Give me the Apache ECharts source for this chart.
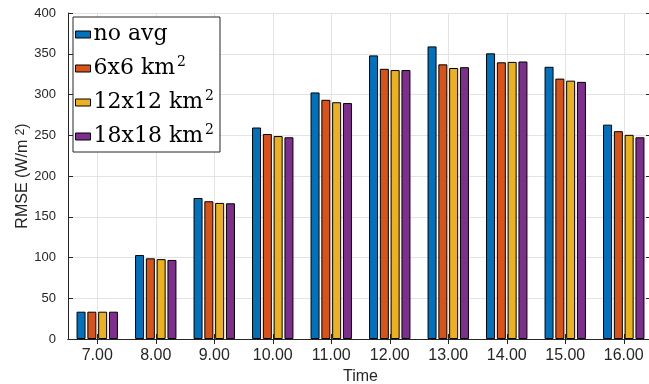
<!DOCTYPE html>
<html>
<head>
<meta charset="utf-8">
<script src="https://cdn.jsdelivr.net/npm/echarts@6/dist/echarts.min.js"></script>
<style>
  html, body { margin: 0; padding: 0; background: #fff; }
  #chart { width: 649px; height: 384px; }
</style>
</head>
<body>
<div id="chart"></div>
<script>
// RMSE per hour, one array per averaging window
const categories = ["7.00", "8.00", "9.00", "10.00", "11.00", "12.00", "13.00", "14.00", "15.00", "16.00"];
const noAvg = [33.5, 103, 173, 259.5, 302.5, 348, 359, 350.5, 334, 263];
const avg6 = [33.5, 99, 169, 251.5, 293.5, 331.5, 337, 339.5, 319.5, 255];
const avg12 = [33.5, 98, 167, 249, 290.5, 330, 332.5, 340, 317, 250.5];
const avg18 = [33.5, 97, 166.5, 247.5, 289.5, 330, 333.5, 340.5, 315.5, 247.5];
const seriesNames = ["no avg", "6x6 km{sup|2}", "12x12 km{sup|2}", "18x18 km{sup|2}"];
const seriesColors = ["#0072BD", "#D95319", "#EDB120", "#7E2F8E"];

const chart = echarts.init(document.getElementById("chart"), null, { renderer: "canvas" });

const axisColor = "#262626";
const gridColor = "#e3e3e3";
const sans = "Liberation Sans";

function makeBar(name, data, color) {
  return {
    name: name,
    type: "bar",
    data: data,
    barWidth: 9,
    barGap: "20%",
    itemStyle: { color: color, borderColor: "#000", borderWidth: 1 }
  };
}

chart.setOption({
  animation: false,
  // axes run past the right edge of the picture, like the cropped original
  grid: { left: 68, top: 13, width: 585, height: 326, containLabel: false, outerBoundsMode: "none" },
  legend: {
    orient: "vertical",
    left: 73,
    top: 17,
    padding: [4, 6, 2, 2],
    itemGap: 7,
    itemWidth: 15,
    itemHeight: 7,
    backgroundColor: "#fff",
    borderColor: "#262626",
    borderWidth: 1,
    borderRadius: 0,
    itemStyle: { borderColor: "#000", borderWidth: 1 },
    textStyle: {
      fontFamily: "DejaVu Serif",
      fontSize: 22,
      color: "#000",
      padding: [0, 0, 0, -2],
      lineHeight: 27,
      rich: {
        sup: { fontFamily: "DejaVu Serif", fontSize: 14, verticalAlign: "top", lineHeight: 12, padding: [0, 0, 0, 2] }
      }
    },
    data: seriesNames.map(n => ({ name: n, icon: "rect" }))
  },
  xAxis: [
    {
      type: "category",
      data: categories,
      position: "bottom",
      name: "Time",
      nameLocation: "middle",
      nameGap: 30,
      nameTextStyle: { fontFamily: sans, fontSize: 16, color: axisColor },
      axisLine: { show: true, lineStyle: { color: axisColor, width: 1 } },
      axisTick: { show: true, inside: true, length: 5, alignWithLabel: true, lineStyle: { color: axisColor } },
      axisLabel: { fontFamily: sans, fontSize: 16, color: axisColor, margin: 9 },
      splitLine: { show: true, alignWithLabel: true, lineStyle: { color: gridColor, width: 1 } }
    },
    {
      type: "category",
      data: categories,
      position: "top",
      axisLine: { show: true, lineStyle: { color: axisColor, width: 1 } },
      axisTick: { show: true, inside: true, length: 5, alignWithLabel: true, lineStyle: { color: axisColor } },
      axisLabel: { show: false },
      splitLine: { show: false }
    }
  ],
  yAxis: [
    {
      type: "value",
      min: 0,
      max: 400,
      interval: 50,
      position: "left",
      name: "RMSE (W/m {sup|2})",
      nameLocation: "middle",
      nameGap: 37,
      nameMoveOverlap: false,
      nameTextStyle: {
        fontFamily: sans,
        fontSize: 16,
        color: axisColor,
        rich: { sup: { fontFamily: sans, fontSize: 12, verticalAlign: "top", lineHeight: 12 } }
      },
      axisLine: { show: true, lineStyle: { color: axisColor, width: 1 } },
      axisTick: { show: true, inside: true, length: 5, lineStyle: { color: axisColor } },
      axisLabel: { fontFamily: sans, fontSize: 13, color: axisColor, margin: 12 },
      splitLine: { show: true, lineStyle: { color: gridColor, width: 1 } }
    },
    {
      type: "value",
      min: 0,
      max: 400,
      interval: 50,
      position: "right",
      axisLine: { show: true, lineStyle: { color: axisColor, width: 1 } },
      axisTick: { show: true, inside: true, length: 7, lineStyle: { color: axisColor } },
      axisLabel: { show: false },
      splitLine: { show: false }
    }
  ],
  series: [
    makeBar(seriesNames[0], noAvg, seriesColors[0]),
    makeBar(seriesNames[1], avg6, seriesColors[1]),
    makeBar(seriesNames[2], avg12, seriesColors[2]),
    makeBar(seriesNames[3], avg18, seriesColors[3])
  ]
});
</script>
</body>
</html>
